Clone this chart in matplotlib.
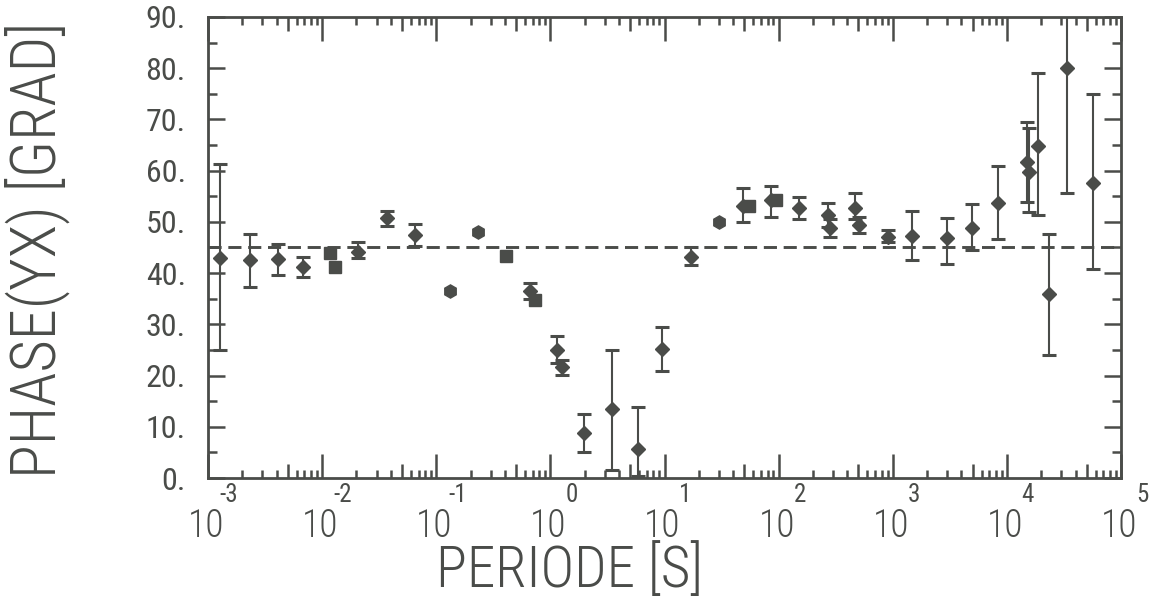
import numpy as np
import matplotlib
matplotlib.use("Agg")
import matplotlib.pyplot as plt
import matplotlib.transforms as mtransforms

######## DATA #######

# diamonds with error bars: period [s], phase [grad], lower / upper end of bar
period_err = [0.00127, 0.00233, 0.0041, 0.0068, 0.0207, 0.0371, 0.0652,
              0.664, 1.15, 1.27, 1.97, 3.48, 5.87, 9.53, 17.1,
              48.9, 85.9, 151, 272, 282, 468, 507, 912, 1479, 3000,
              4966, 8395, 15070, 15670, 18790, 23500, 33730, 57020]
phase_err = [43.0, 42.6, 42.8, 41.2, 44.1, 50.8, 47.5,
             36.5, 25.0, 21.7, 8.8, 13.5, 5.7, 25.2, 43.2,
             53.1, 54.3, 52.7, 51.4, 48.8, 52.7, 49.4, 47.1, 47.3, 46.9,
             48.8, 53.7, 61.6, 59.8, 64.9, 35.9, 80.1, 57.6]
phase_lo = [25.0, 37.3, 39.6, 39.3, 43.0, 49.2, 45.3,
            35.0, 22.5, 20.1, 5.1, 1.5, 0.3, 20.9, 41.6,
            50.0, 51.0, 50.6, 49.0, 47.1, 50.5, 47.8, 46.0, 42.6, 41.8,
            44.5, 46.7, 53.9, 51.9, 51.4, 24.0, 55.7, 40.8]
phase_hi = [61.3, 47.7, 45.7, 43.2, 46.0, 52.1, 49.6,
            38.1, 27.7, 23.0, 12.5, 25.0, 13.9, 29.5, 45.1,
            56.6, 57.0, 54.9, 53.7, 50.5, 55.7, 51.0, 48.5, 52.1, 50.8,
            53.5, 61.0, 69.5, 68.3, 79.1, 47.6, 95.0, 75.0]

# filled squares (no visible bars)
period_sq = [0.0117, 0.0130, 0.409, 0.735, 55.1, 95.1]
phase_sq = [44.0, 41.2, 43.4, 34.8, 53.1, 54.3]

# filled hexagons (no visible bars)
period_hex = [0.132, 0.232, 30.1]
phase_hex = [36.5, 48.0, 50.0]

ref_phase = 45.0
decades = [-3, -2, -1, 0, 1, 2, 3, 4, 5]
y_ticks = [0, 10, 20, 30, 40, 50, 60, 70, 80, 90]

####### PLOT #######

ink = '#4a4c49'
plt.rcParams['font.family'] = ['Roboto Condensed', 'Liberation Sans Narrow', 'DejaVu Sans']

fig = plt.figure(figsize=(11.65, 6.02), dpi=100)
ax = fig.add_axes([208/1165, 1-478/602, (1121-208)/1165, (478-17)/602])

ax.set_xscale('log')
ax.set_xlim(10.0**decades[0], 10.0**decades[-1])
ax.set_ylim(y_ticks[0], y_ticks[-1])

# reference line
ax.axhline(ref_phase, color=ink, linewidth=2.1, linestyle=(0, (4.5, 2.3)), zorder=1)

# data
yerr = [np.array(phase_err) - np.array(phase_lo), np.array(phase_hi) - np.array(phase_err)]
ax.errorbar(period_err, phase_err, yerr=yerr, fmt='D', ms=7, color=ink, mec=ink,
            ecolor=ink, elinewidth=1.5, capsize=5, capthick=2.2, zorder=3)
ax.plot(period_sq, phase_sq, 's', ms=8, color=ink, zorder=3)
ax.plot(period_hex, phase_hex, 'h', ms=9.5, color=ink, zorder=3)

# frame and ticks
for s in ax.spines.values():
    s.set_linewidth(2.0)
    s.set_color(ink)

major_x = [10.0**d for d in decades]
minor_x = [k*10.0**d for d in decades[:-1] for k in (2, 3, 4, 6, 7, 8, 9)]
mid_x = [5*10.0**d for d in decades[:-1]]
ax.set_xticks(major_x)
ax.set_xticks(minor_x, minor=True)
ax.set_xticklabels([])
ax.set_xticklabels([], minor=True)
ax.set_yticks(y_ticks)
ax.set_yticks(np.arange(5, 90, 10), minor=True)
ax.set_yticklabels(['%d.' % v for v in y_ticks], fontsize=23, color=ink)

ax.tick_params(which='both', direction='in', top=True, right=True, color=ink, width=1.8)
ax.tick_params(axis='x', which='major', length=17)
ax.tick_params(axis='x', which='minor', length=6)
ax.tick_params(axis='y', which='major', length=12, pad=16)
ax.tick_params(axis='y', which='minor', length=6.5)

# medium ticks at 5 * 10^k, bottom and top
trans = mtransforms.blended_transform_factory(ax.transData, ax.transAxes)
ax.vlines(mid_x, 0, 0.03, transform=trans, color=ink, linewidth=1.8, clip_on=False)
ax.vlines(mid_x, 0.97, 1, transform=trans, color=ink, linewidth=1.8, clip_on=False)

# x tick labels: "10" with exponent above-right
for d in decades:
    t10 = mtransforms.offset_copy(trans, fig=fig, x=-2, y=-48, units='dots')
    ax.text(10.0**d, 0, '10', transform=t10, ha='center', va='center',
            fontsize=27, fontweight='light', color=ink)
    tex = mtransforms.offset_copy(trans, fig=fig, x=21, y=-17, units='dots')
    ax.text(10.0**d, 0, '%d' % d, transform=tex, ha='center', va='center',
            fontsize=18, color=ink)

# axis titles
fig.text(37/1165, 1-250/602, 'PHASE(YX) [GRAD]', rotation=90, ha='center', va='center',
         fontsize=45, fontweight='light', color=ink)
fig.text(570/1165, 1-587/602, 'PERIODE [S]', ha='center', va='baseline',
         fontsize=41, fontweight='light', color=ink)

fig.savefig('out.png', dpi=100)
